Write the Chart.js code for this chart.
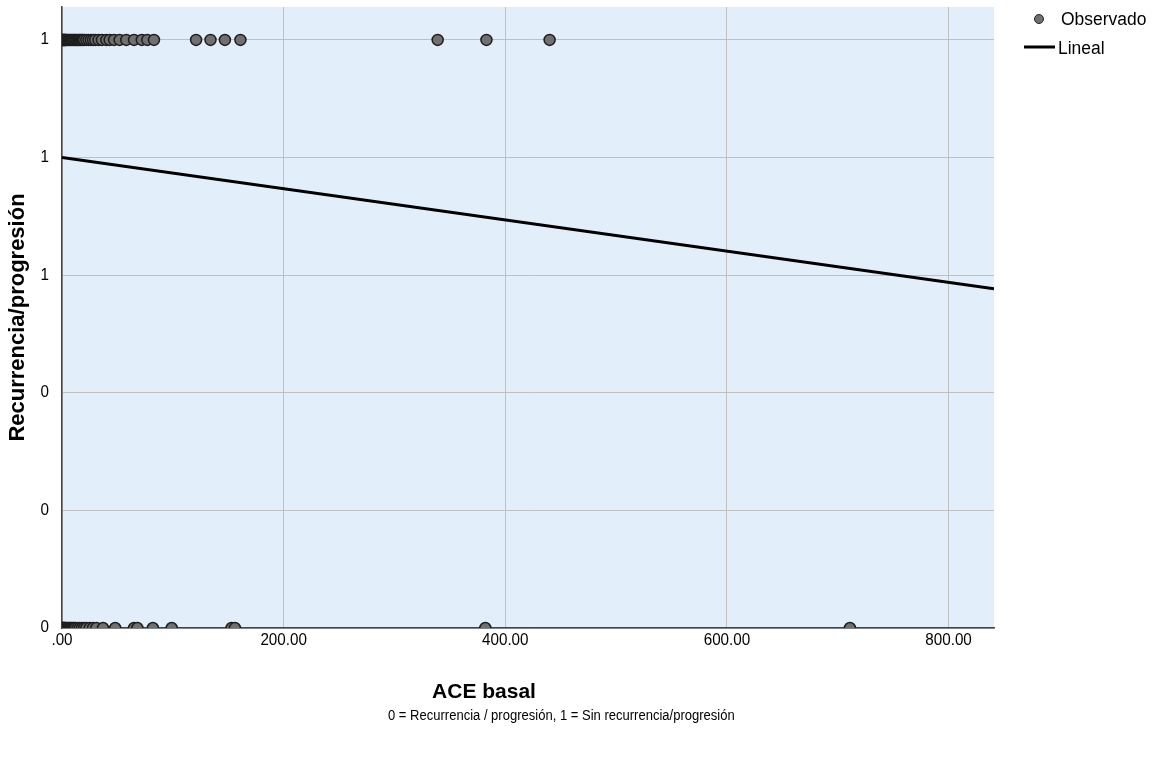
<!DOCTYPE html>
<html>
<head>
<meta charset="utf-8">
<script src="https://cdn.jsdelivr.net/npm/chart.js@4"></script>
<style>
  html, body { margin: 0; padding: 0; background: #ffffff; }
  #wrap { width: 1164px; height: 758px; }
</style>
</head>
<body>
<div id="wrap"><canvas id="c" width="1164" height="758"></canvas></div>
<script>
// ACE basal values of observations with outcome 1 (Sin recurrencia/progresión)
const aceGroup1 = [0, 0.5, 1, 1.5, 2, 2.5, 3, 3.5, 4, 5, 6, 7, 8, 9, 10, 11, 12, 13, 14, 15, 16, 17, 18, 19, 20, 22, 24, 26, 28, 30, 33, 36, 40, 43, 47, 52, 58, 65, 72, 77, 83, 121, 134, 147, 161, 339, 383, 440];
// ACE basal values of observations with outcome 0 (Recurrencia / progresión)
const aceGroup0 = [0, 0.5, 1, 1.5, 2, 2.5, 3, 4, 5, 6, 7, 8, 9, 10, 11, 12, 14, 16, 18, 20, 22, 25, 28, 31, 37, 48, 65, 68, 82, 99, 153, 156, 382, 711];
// Linear fit line, read at the two ends of the x range
const fitX = [0, 841];
const fitY = [0.80, 0.577];
// Axis ticks
const xTickValues = [0, 200, 400, 600, 800];
const xTickLabels = ['.00', '200.00', '400.00', '600.00', '800.00'];
const yTickValues = [0, 0.2, 0.4, 0.6, 0.8, 1.0];
const yTickLabels = ['0', '0', '0', '1', '1', '1'];
const seriesNames = ['Observado', 'Lineal'];
const xTitle = 'ACE basal';
const yTitle = 'Recurrencia/progresión';
const footnote = '0 = Recurrencia / progresión, 1 = Sin recurrencia/progresión';

const sans = '"Liberation Sans", Arial, sans-serif';

const observed = aceGroup1.map(x => ({x: x, y: 1})).concat(aceGroup0.map(x => ({x: x, y: 0})));
const fitLine = fitX.map((x, i) => ({x: x, y: fitY[i]}));

function drawText(ctx, text, x, y, size, align, sx, weight) {
  ctx.save();
  ctx.font = (weight || 'normal') + ' ' + size + 'px ' + sans;
  ctx.textBaseline = 'middle';
  ctx.textAlign = align;
  ctx.fillStyle = '#000';
  ctx.translate(x, y);
  ctx.scale(sx, 1);
  ctx.fillText(text, 0, 0);
  ctx.restore();
}

const deco = {
  id: 'deco',
  beforeDraw(chart) {
    const {ctx, chartArea: a} = chart;
    ctx.save();
    ctx.fillStyle = '#e2eefa';
    ctx.fillRect(a.left, a.top, a.right - a.left, a.bottom - a.top);
    ctx.restore();
  },
  afterDraw(chart) {
    const {ctx} = chart;
    const xs = chart.scales.x, ys = chart.scales.y;
    // tick labels
    xTickValues.forEach((v, i) => drawText(ctx, xTickLabels[i], xs.getPixelForValue(v), 641, 16, 'center', 0.95));
    yTickValues.forEach((v, i) => drawText(ctx, yTickLabels[i], 49, ys.getPixelForValue(v), 16, 'right', 0.95));
    // axis title (x)
    drawText(ctx, xTitle, 484, 692, 21, 'center', 1, 'bold');
    // legend
    ctx.save();
    ctx.beginPath();
    ctx.arc(1039, 19, 4.5, 0, Math.PI * 2);
    ctx.fillStyle = '#707070';
    ctx.fill();
    ctx.lineWidth = 1;
    ctx.strokeStyle = '#222222';
    ctx.stroke();
    ctx.beginPath();
    ctx.moveTo(1024, 47);
    ctx.lineTo(1055, 47);
    ctx.lineWidth = 3;
    ctx.strokeStyle = '#000';
    ctx.stroke();
    ctx.restore();
    drawText(ctx, seriesNames[0], 1061, 20, 18, 'left', 0.97);
    drawText(ctx, seriesNames[1], 1058, 49, 18, 'left', 0.97);
    // footnote
    drawText(ctx, footnote, 388, 716, 14, 'left', 0.93);
  }
};

new Chart(document.getElementById('c'), {
  type: 'scatter',
  data: {
    datasets: [
      {
        label: seriesNames[0],
        data: observed,
        pointRadius: 5.5,
        pointBackgroundColor: '#707070',
        pointBorderColor: '#1e1e1e',
        pointBorderWidth: 1.5,
        showLine: false,
        order: 1
      },
      {
        label: seriesNames[1],
        data: fitLine,
        showLine: true,
        borderColor: '#000000',
        borderWidth: 3,
        pointRadius: 0,
        fill: false,
        order: 2
      }
    ]
  },
  options: {
    responsive: false,
    animation: false,
    events: [],
    layout: { padding: { top: 5, right: 170, left: 0, bottom: 0 } },
    plugins: {
      legend: { display: false },
      tooltip: { enabled: false }
    },
    scales: {
      x: {
        type: 'linear',
        min: 0,
        max: 841,
        afterBuildTicks(scale) { scale.ticks = xTickValues.map(v => ({value: v})); },
        afterFit(scale) { scale.height = 130; scale.paddingLeft = 0; scale.paddingRight = 0; },
        border: { display: true, color: '#444444', width: 1.5 },
        grid: { color: '#c0c0c0', lineWidth: 1, drawTicks: false },
        ticks: { display: false },
        title: { display: false }
      },
      y: {
        type: 'linear',
        min: 0,
        max: 1.056,
        afterBuildTicks(scale) { scale.ticks = yTickValues.map(v => ({value: v})); },
        afterFit(scale) { scale.width = 62; scale.paddingTop = 0; scale.paddingBottom = 0; },
        border: { display: true, color: '#444444', width: 1.5 },
        grid: { color: '#c0c0c0', lineWidth: 1, drawTicks: false },
        ticks: { display: false },
        title: {
          display: true,
          text: yTitle,
          color: '#000',
          font: { family: sans, size: 22, weight: 'bold' },
          padding: { top: 5, bottom: 0 }
        }
      }
    }
  },
  plugins: [deco]
});
</script>
</body>
</html>
